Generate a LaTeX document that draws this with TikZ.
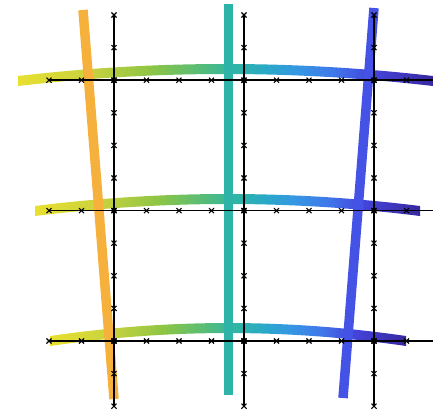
\documentclass[tikz,border=0pt]{standalone}
\usetikzlibrary{shapes.misc}
\definecolor{c0}{HTML}{E8E030}
\definecolor{c1}{HTML}{C9D23E}
\definecolor{c2}{HTML}{8DC545}
\definecolor{c3}{HTML}{55BC78}
\definecolor{c4}{HTML}{2FB6A5}
\definecolor{c5}{HTML}{2AA8C8}
\definecolor{c6}{HTML}{3598E2}
\definecolor{c7}{HTML}{3F78EA}
\definecolor{c8}{HTML}{4545DC}
\definecolor{c9}{HTML}{3828A0}
\definecolor{orangeC}{HTML}{F6B13C}
\definecolor{tealC}{HTML}{2DB3A7}
\definecolor{blueC}{HTML}{4452E6}
\pgfdeclarehorizontalshading{rowshade}{100bp}{color(0bp)=(c0); color(25bp)=(c0); color(33.5bp)=(c1); color(41bp)=(c2); color(47bp)=(c3); color(51bp)=(c4); color(55bp)=(c5); color(58.5bp)=(c6); color(63bp)=(c7); color(67.5bp)=(c8); color(75bp)=(c9); color(100bp)=(c9)}
\tikzset{
  colline/.style={line width=9.5pt},
  gridln/.style={black, line width=1.7pt},
  xmk/.style={draw=black, cross out, minimum size=4pt, inner sep=0pt, line width=1.1pt},
}
\begin{document}
\begin{tikzpicture}[x=1pt,y=-1pt]
\useasboundingbox (0,0) rectangle (433,416);
% gradient arcs
\shade[shading=rowshade] (18,76) .. controls (156,60) and (294,60) .. (433,76) -- (433,86) .. controls (294,70) and (156,70) .. (18,86) -- cycle;
\shade[shading=rowshade] (35,206) .. controls (163,190) and (292,190) .. (420,206) -- (420,216) .. controls (292,200) and (163,200) .. (35,216) -- cycle;
\shade[shading=rowshade] (50,336) .. controls (169,318.7) and (287,318.7) .. (406,336) -- (406,346) .. controls (287,328.7) and (169,328.7) .. (50,346) -- cycle;
% coloured near-vertical lines
\draw[colline, orangeC] (83,10) -- (114,399);
\draw[colline, tealC] (228.5,4) -- (228.5,395);
\draw[colline, blueC] (374,8) -- (343,398);
% black grid
\foreach \k in {2,6,10}{
  \draw[gridln] ({49+32.5*\k},15) -- ({49+32.5*\k},406.2);
  \draw[gridln] (49,{15+32.6*\k}) -- (433,{15+32.6*\k});
}
\foreach \k in {2,6,10}{
  \foreach \j in {0,...,12}{
    \node[xmk] at ({49+32.5*\k},{15+32.6*\j}) {};
  }
  \foreach \j in {0,...,11}{
    \node[xmk] at ({49+32.5*\j},{15+32.6*\k}) {};
  }
}
\foreach \k in {2,6,10}{
  \foreach \j in {2,6,10}{
    \fill[black] ({49+32.5*\k},{15+32.6*\j}) circle (2.8);
  }
}
\end{tikzpicture}
\end{document}
